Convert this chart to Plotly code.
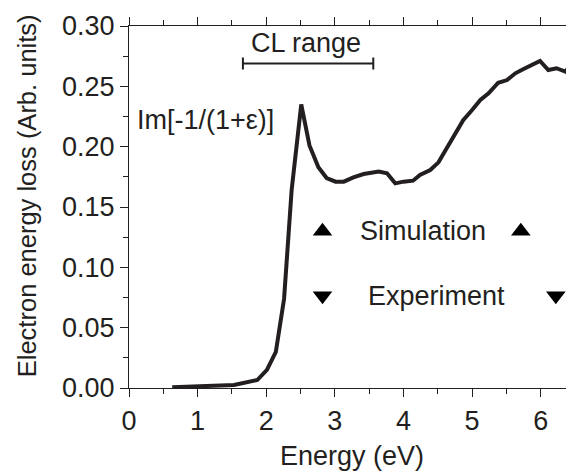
import plotly.graph_objects as go

# Data
energy = [0.63, 1.53, 1.87, 2.01, 2.14, 2.26, 2.37, 2.51, 2.63, 2.76, 2.88, 3.01, 3.13,
          3.27, 3.42, 3.64, 3.76, 3.88, 4.00, 4.14, 4.24, 4.39, 4.51, 4.63, 4.75, 4.87,
          5.00, 5.12, 5.24, 5.38, 5.51, 5.63, 5.75, 5.87, 5.99, 6.11, 6.23, 6.36, 6.49]
loss = [0.0006, 0.0025, 0.0066, 0.015, 0.030, 0.074, 0.164, 0.235, 0.201, 0.183, 0.174,
        0.171, 0.171, 0.1746, 0.1773, 0.1793, 0.178, 0.1696, 0.171, 0.1718, 0.1765,
        0.1807, 0.187, 0.1986, 0.2097, 0.222, 0.2304, 0.2387, 0.2442, 0.253, 0.2552,
        0.2608, 0.2644, 0.2677, 0.271, 0.2635, 0.265, 0.2622, 0.272]

cl_range = [1.66, 3.56]
cl_level = 0.269

x_ticks = [0, 1, 2, 3, 4, 5, 6]
y_ticks = [0.00, 0.05, 0.10, 0.15, 0.20, 0.25, 0.30]
y_tick_labels = ["0.00", "0.05", "0.10", "0.15", "0.20", "0.25", "0.30"]

ink = "#231f20"
font = "Liberation Sans, Arial, sans-serif"
fs = 27

fig = go.Figure()
fig.add_trace(go.Scatter(x=energy, y=loss, mode="lines",
                         line=dict(color=ink, width=4), showlegend=False,
                         hoverinfo="skip"))

# CL range bar with caps
cl_mid = (cl_range[0] + cl_range[1]) / 2
cl_half = (cl_range[1] - cl_range[0]) / 2
fig.add_trace(go.Scatter(x=[cl_mid], y=[cl_level], mode="markers",
                         marker=dict(size=0.1, color="rgba(0,0,0,0)"),
                         error_x=dict(type="data", array=[cl_half], symmetric=True,
                                      color=ink, thickness=2, width=6),
                         showlegend=False, hoverinfo="skip"))

# legend-like glyphs
fig.add_trace(go.Scatter(x=[2.82, 5.71], y=[0.130, 0.130], mode="markers",
                         marker=dict(symbol="triangle-up", size=17, color="black"),
                         showlegend=False, hoverinfo="skip"))
fig.add_trace(go.Scatter(x=[2.82, 6.22], y=[0.0765, 0.0765], mode="markers",
                         marker=dict(symbol="triangle-down", size=17, color="black"),
                         showlegend=False, hoverinfo="skip"))

annots = [
    dict(x=2.58, y=0.286, text="CL range", xanchor="center", yanchor="middle"),
    dict(x=0.09, y=0.222, text="Im[-1/(1+ε)]", xanchor="left", yanchor="middle"),
    dict(x=4.28, y=0.130, text="Simulation", xanchor="center", yanchor="middle"),
    dict(x=4.48, y=0.0765, text="Experiment", xanchor="center", yanchor="middle"),
]
for a in annots:
    fig.add_annotation(**a, showarrow=False, font=dict(family=font, size=fs, color=ink))

# axis titles
fig.add_annotation(x=0.502, y=-0.188, xref="paper", yref="paper", text="Energy (eV)",
                   showarrow=False, xanchor="center", yanchor="middle",
                   font=dict(family=font, size=fs, color=ink))
fig.add_annotation(x=-0.229, y=0.530, xref="paper", yref="paper",
                   text="Electron energy loss (Arb. units)", textangle=-90,
                   showarrow=False, xanchor="center", yanchor="middle",
                   font=dict(family=font, size=25.5, color=ink))

axis_common = dict(showgrid=False, zeroline=False, showline=True, linecolor=ink,
                   linewidth=1.2, ticks="outside", ticklen=8, tickwidth=1.2,
                   tickcolor=ink, automargin=False,
                   tickfont=dict(family=font, size=fs, color=ink))

fig.update_xaxes(**axis_common, range=[0, 6.485], tickvals=x_ticks, mirror="ticks",
                 minor=dict(dtick=0.5, ticks="outside", ticklen=5, tickwidth=1.2,
                            tickcolor=ink))
fig.update_yaxes(**axis_common, range=[0, 0.30], tickvals=y_ticks,
                 ticktext=y_tick_labels, mirror=False,
                 minor=dict(dtick=0.025, ticks="outside", ticklen=5, tickwidth=1.2,
                            tickcolor=ink))

# page body has an 8px margin, so the figure is sized and offset to compensate
fig.update_layout(width=566, height=464, margin=dict(l=121, r=0, t=18, b=84),
                  plot_bgcolor="white", paper_bgcolor="white", showlegend=False)

fig.write_html("out.html")
